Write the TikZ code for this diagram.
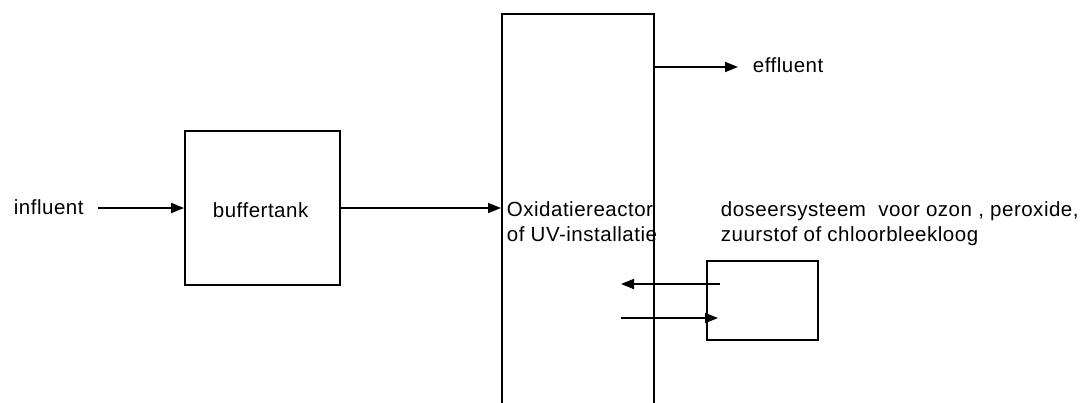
\documentclass[tikz,border=0pt]{standalone}
\usepackage{fontspec}
\setmainfont{Liberation Sans}[LetterSpace=2.5]
\usetikzlibrary{arrows.meta}
\begin{document}
\begin{tikzpicture}[x=1pt,y=-1pt,
  line width=1.8pt,
  box/.style={draw,rectangle,inner sep=0pt,line width=1.8pt},
  lbl/.style={inner sep=0pt,anchor=base west,font=\fontsize{20.5}{26}\selectfont},
  flow/.style={-{Triangle[length=13pt,width=10pt]}}]
\useasboundingbox (0,0) rectangle (1086,402);
% boxes
\node[box,minimum width=155pt,minimum height=154pt] (buffer) at (262.5,208) {};
\node[box,minimum width=152pt,minimum height=440pt,anchor=north west] (reactor) at (501,13) {};
\node[box,minimum width=111pt,minimum height=79pt] (doser) at (762.5,300.5) {};
% texts
\node[lbl] (inf) at (13,214) {influent};
\node[lbl] (buftxt) at (212,217) {buffertank};
\node[lbl] (rtxt1) at (506,216) {Oxidatiereactor};
\node[lbl] (rtxt2) at (506,241) {of UV-installatie};
\node[lbl] (eff) at (752,72) {effluent};
\node[lbl] (dtxt1) at (720,216) {doseersysteem\ \ voor ozon , peroxide,};
\node[lbl] (dtxt2) at (720,241) {zuurstof of chloorbleekloog};
% coordinates
\coordinate (infstart) at (98,208);
\coordinate (effend) at (738,67);
\coordinate (retA) at (720,284);
\coordinate (retB) at (621,284);
\coordinate (feedA) at (621,318);
\coordinate (feedB) at (718,318);
% connectors
\draw[flow] (infstart) -- (infstart -| buffer.west);
\draw[flow] (buffer.east) -- (buffer.east -| reactor.west);
\draw[flow] (reactor.east |- effend) -- (effend);
\draw[flow] (retA) -- (retB);
\draw[flow] (feedA) -- (feedB);
\end{tikzpicture}
\end{document}
